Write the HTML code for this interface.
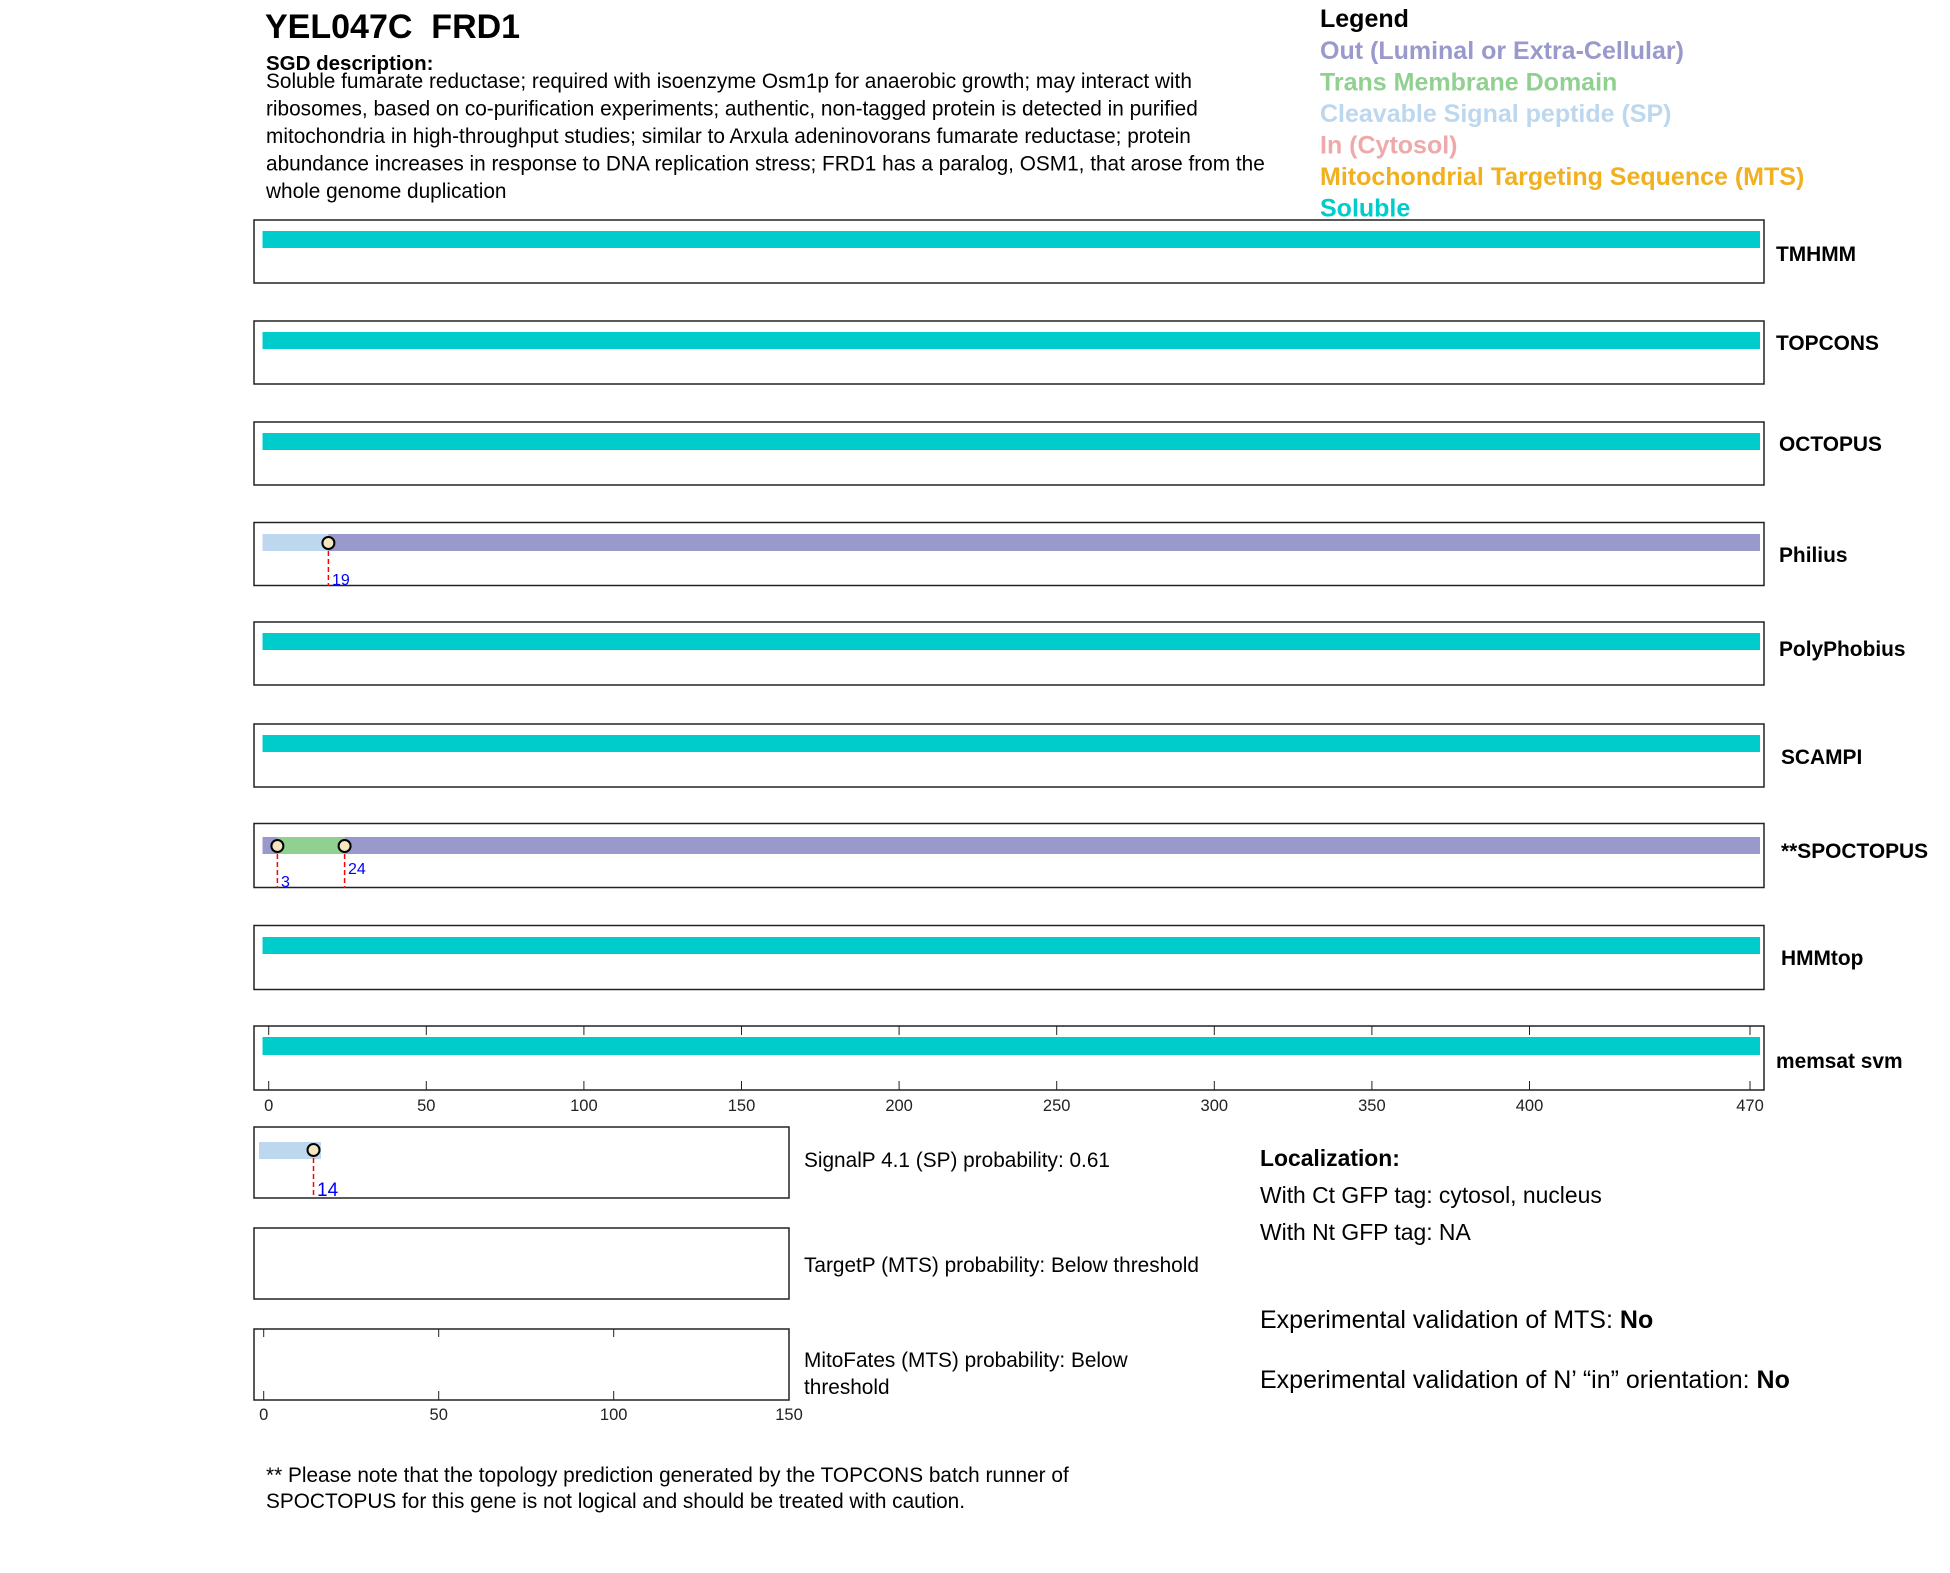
<!DOCTYPE html>
<html><head><meta charset="utf-8"><style>
body{margin:0;background:#fff;}
svg{display:block;font-family:"Liberation Sans",Arial,sans-serif;}
</style></head><body>
<svg width="1950" height="1573" xmlns="http://www.w3.org/2000/svg">
<text x="265" y="38" font-size="34" font-weight="bold" xml:space="preserve">YEL047C  FRD1</text>
<text x="266" y="70" font-size="20.5" font-weight="bold">SGD description:</text>
<g font-size="20.8">
<text x="266" y="88">Soluble fumarate reductase; required with isoenzyme Osm1p for anaerobic growth; may interact with</text>
<text x="266" y="115.5">ribosomes, based on co-purification experiments; authentic, non-tagged protein is detected in purified</text>
<text x="266" y="143">mitochondria in high-throughput studies; similar to Arxula adeninovorans fumarate reductase; protein</text>
<text x="266" y="170.5">abundance increases in response to DNA replication stress; FRD1 has a paralog, OSM1, that arose from the</text>
<text x="266" y="198">whole genome duplication</text>
</g>
<g font-size="25" font-weight="bold">
<text x="1320" y="27">Legend</text>
<text x="1320" y="59" fill="#9999cc">Out (Luminal or Extra-Cellular)</text>
<text x="1320" y="90.5" fill="#90d090">Trans Membrane Domain</text>
<text x="1320" y="122" fill="#bdd7ee">Cleavable Signal peptide (SP)</text>
<text x="1320" y="153.5" fill="#eeaaaa">In (Cytosol)</text>
<text x="1320" y="185" fill="#f0b020">Mitochondrial Targeting Sequence (MTS)</text>
<text x="1320" y="216.5" fill="#00cccc">Soluble</text>
</g>
<g stroke="#222" stroke-width="1.5" fill="none">
<rect x="254" y="220" width="1510" height="63"/>
<rect x="254" y="321" width="1510" height="63"/>
<rect x="254" y="422" width="1510" height="63"/>
<rect x="254" y="522.5" width="1510" height="63"/>
<rect x="254" y="622" width="1510" height="63"/>
<rect x="254" y="724" width="1510" height="63"/>
<rect x="254" y="823.5" width="1510" height="64"/>
<rect x="254" y="925.5" width="1510" height="64"/>
<rect x="254" y="1026" width="1510" height="64"/>
<rect x="254" y="1127" width="535" height="71"/>
<rect x="254" y="1228" width="535" height="71"/>
<rect x="254" y="1329" width="535" height="71"/>
</g>
<g fill="#00cccc">
<rect x="262.5" y="231" width="1497.5" height="17"/>
<rect x="262.5" y="332" width="1497.5" height="17"/>
<rect x="262.5" y="433" width="1497.5" height="17"/>
<rect x="262.5" y="633" width="1497.5" height="17"/>
<rect x="262.5" y="735" width="1497.5" height="17"/>
<rect x="262.5" y="937" width="1497.5" height="17"/>
<rect x="262.5" y="1037" width="1497.5" height="18"/>
</g>
<!-- Philius -->
<rect x="262.5" y="534" width="66" height="17" fill="#bdd7ee"/>
<rect x="328.4" y="534" width="1431.6" height="17" fill="#9999cc"/>
<line x1="328.4" y1="543" x2="328.4" y2="586" stroke="red" stroke-width="1.5" stroke-dasharray="5,3"/>
<circle cx="328.4" cy="543" r="6" fill="#f5e6c0" stroke="#000" stroke-width="2"/>
<text x="332" y="585" font-size="16" fill="#00f">19</text>
<!-- SPOCTOPUS -->
<rect x="262.5" y="837" width="15" height="17" fill="#9999cc"/>
<rect x="277.4" y="837" width="67.2" height="17" fill="#90d090"/>
<rect x="344.6" y="837" width="1415.4" height="17" fill="#9999cc"/>
<line x1="277.4" y1="846" x2="277.4" y2="888" stroke="red" stroke-width="1.5" stroke-dasharray="5,3"/>
<line x1="344.6" y1="846" x2="344.6" y2="888" stroke="red" stroke-width="1.5" stroke-dasharray="5,3"/>
<circle cx="277.4" cy="846" r="6" fill="#f5e6c0" stroke="#000" stroke-width="2"/>
<circle cx="344.6" cy="846" r="6" fill="#f5e6c0" stroke="#000" stroke-width="2"/>
<text x="281" y="887" font-size="16" fill="#00f">3</text>
<text x="348" y="874" font-size="16" fill="#00f">24</text>
<g font-size="20.9" font-weight="bold">
<text x="1776" y="261">TMHMM</text>
<text x="1776" y="350">TOPCONS</text>
<text x="1779" y="451">OCTOPUS</text>
<text x="1779" y="562">Philius</text>
<text x="1779" y="656">PolyPhobius</text>
<text x="1781" y="764">SCAMPI</text>
<text x="1781" y="858">**SPOCTOPUS</text>
<text x="1781" y="965">HMMtop</text>
<text x="1776" y="1068">memsat svm</text>
</g>
<!-- memsat ticks -->
<g stroke="#222" stroke-width="1">
<line x1="268.7" y1="1026" x2="268.7" y2="1035"/><line x1="268.7" y1="1081" x2="268.7" y2="1090"/>
<line x1="426.3" y1="1026" x2="426.3" y2="1035"/><line x1="426.3" y1="1081" x2="426.3" y2="1090"/>
<line x1="583.9" y1="1026" x2="583.9" y2="1035"/><line x1="583.9" y1="1081" x2="583.9" y2="1090"/>
<line x1="741.5" y1="1026" x2="741.5" y2="1035"/><line x1="741.5" y1="1081" x2="741.5" y2="1090"/>
<line x1="899.1" y1="1026" x2="899.1" y2="1035"/><line x1="899.1" y1="1081" x2="899.1" y2="1090"/>
<line x1="1056.7" y1="1026" x2="1056.7" y2="1035"/><line x1="1056.7" y1="1081" x2="1056.7" y2="1090"/>
<line x1="1214.3" y1="1026" x2="1214.3" y2="1035"/><line x1="1214.3" y1="1081" x2="1214.3" y2="1090"/>
<line x1="1371.9" y1="1026" x2="1371.9" y2="1035"/><line x1="1371.9" y1="1081" x2="1371.9" y2="1090"/>
<line x1="1529.5" y1="1026" x2="1529.5" y2="1035"/><line x1="1529.5" y1="1081" x2="1529.5" y2="1090"/>
<line x1="1750" y1="1026" x2="1750" y2="1035"/><line x1="1750" y1="1081" x2="1750" y2="1090"/>
<line x1="263.7" y1="1329" x2="263.7" y2="1337"/><line x1="263.7" y1="1391" x2="263.7" y2="1400"/>
<line x1="438.7" y1="1329" x2="438.7" y2="1337"/><line x1="438.7" y1="1391" x2="438.7" y2="1400"/>
<line x1="613.7" y1="1329" x2="613.7" y2="1337"/><line x1="613.7" y1="1391" x2="613.7" y2="1400"/>
</g>
<g font-size="16.5" text-anchor="middle" fill="#222">
<text x="268.7" y="1111">0</text><text x="426.3" y="1111">50</text><text x="583.9" y="1111">100</text>
<text x="741.5" y="1111">150</text><text x="899.1" y="1111">200</text><text x="1056.7" y="1111">250</text>
<text x="1214.3" y="1111">300</text><text x="1371.9" y="1111">350</text><text x="1529.5" y="1111">400</text>
<text x="1750" y="1111">470</text>
<text x="263.7" y="1420">0</text><text x="438.7" y="1420">50</text><text x="613.7" y="1420">100</text><text x="789" y="1420">150</text>
</g>
<!-- SignalP -->
<rect x="259" y="1142" width="62" height="17" fill="#bdd7ee"/>
<line x1="313.5" y1="1150" x2="313.5" y2="1198" stroke="red" stroke-width="1.5" stroke-dasharray="5,3"/>
<circle cx="313.5" cy="1150" r="6" fill="#f5e6c0" stroke="#000" stroke-width="2"/>
<text x="317" y="1196" font-size="19" fill="#00f">14</text>
<g font-size="20.8">
<text x="804" y="1167">SignalP 4.1 (SP) probability: 0.61</text>
<text x="804" y="1272">TargetP (MTS) probability: Below threshold</text>
<text x="804" y="1367">MitoFates (MTS) probability: Below</text>
<text x="804" y="1394">threshold</text>
<text x="266" y="1482">** Please note that the topology prediction generated by the TOPCONS batch runner of</text>
<text x="266" y="1508">SPOCTOPUS for this gene is not logical and should be treated with caution.</text>
</g>
<g font-size="22.9">
<text x="1260" y="1166" font-weight="bold">Localization:</text>
<text x="1260" y="1203">With Ct GFP tag: cytosol, nucleus</text>
<text x="1260" y="1240">With Nt GFP tag: NA</text>
</g>
<g font-size="25">
<text x="1260" y="1328">Experimental validation of MTS: <tspan font-weight="bold">No</tspan></text>
<text x="1260" y="1388">Experimental validation of N’ “in” orientation: <tspan font-weight="bold">No</tspan></text>
</g>
</svg>
</body></html>
